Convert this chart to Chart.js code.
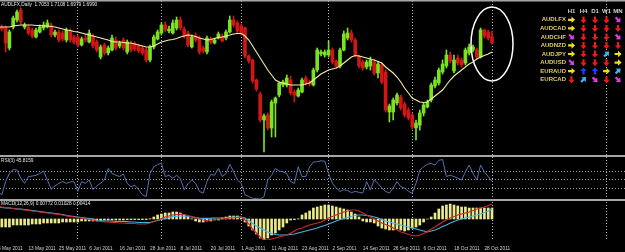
<!DOCTYPE html>
<html>
<head>
<meta charset="utf-8">
<script src="https://cdn.jsdelivr.net/npm/chart.js@4.4.0/dist/chart.umd.min.js"></script>
<style>
  html, body { margin: 0; padding: 0; background: #000; }
  #c { display: block; background: #000; }
</style>
</head>
<body>
<canvas id="c" width="625" height="252"></canvas>
<script>
// trading days, one per bar
var dates = [
  '3 May 2011','4 May 2011','5 May 2011','6 May 2011','9 May 2011','10 May 2011','11 May 2011','12 May 2011','13 May 2011','16 May 2011','17 May 2011','18 May 2011','19 May 2011','20 May 2011','23 May 2011','24 May 2011','25 May 2011','26 May 2011','27 May 2011','30 May 2011','31 May 2011',
  '1 Jun 2011','2 Jun 2011','3 Jun 2011','6 Jun 2011','7 Jun 2011','8 Jun 2011','9 Jun 2011','10 Jun 2011','13 Jun 2011','14 Jun 2011','15 Jun 2011','16 Jun 2011','17 Jun 2011','20 Jun 2011','21 Jun 2011','22 Jun 2011','23 Jun 2011','24 Jun 2011','27 Jun 2011','28 Jun 2011','29 Jun 2011','30 Jun 2011',
  '1 Jul 2011','4 Jul 2011','5 Jul 2011','6 Jul 2011','7 Jul 2011','8 Jul 2011','11 Jul 2011','12 Jul 2011','13 Jul 2011','14 Jul 2011','15 Jul 2011','18 Jul 2011','19 Jul 2011','20 Jul 2011','21 Jul 2011','22 Jul 2011','25 Jul 2011','26 Jul 2011','27 Jul 2011','28 Jul 2011','29 Jul 2011',
  '1 Aug 2011','2 Aug 2011','3 Aug 2011','4 Aug 2011','5 Aug 2011','8 Aug 2011','9 Aug 2011','10 Aug 2011','11 Aug 2011','12 Aug 2011','15 Aug 2011','16 Aug 2011','17 Aug 2011','18 Aug 2011','19 Aug 2011','22 Aug 2011','23 Aug 2011','24 Aug 2011','25 Aug 2011','26 Aug 2011','29 Aug 2011','30 Aug 2011','31 Aug 2011',
  '1 Sep 2011','2 Sep 2011','5 Sep 2011','6 Sep 2011','7 Sep 2011','8 Sep 2011','9 Sep 2011','12 Sep 2011','13 Sep 2011','14 Sep 2011','15 Sep 2011','16 Sep 2011','19 Sep 2011','20 Sep 2011','21 Sep 2011','22 Sep 2011','23 Sep 2011','26 Sep 2011','27 Sep 2011','28 Sep 2011','29 Sep 2011','30 Sep 2011',
  '3 Oct 2011','4 Oct 2011','5 Oct 2011','6 Oct 2011','7 Oct 2011','10 Oct 2011','11 Oct 2011','12 Oct 2011','13 Oct 2011','14 Oct 2011','17 Oct 2011','18 Oct 2011','19 Oct 2011','20 Oct 2011','21 Oct 2011','24 Oct 2011','25 Oct 2011','26 Oct 2011','27 Oct 2011','28 Oct 2011','31 Oct 2011',
  '1 Nov 2011'
];

var open = [
  1.716,1.715,1.714,1.694,1.715,1.722,1.732,1.715,1.715,1.712,
  1.705,1.710,1.714,1.715,1.717,1.707,1.710,1.709,1.702,1.711,
  1.705,1.705,1.697,1.704,1.700,1.706,1.700,1.685,1.697,1.689,
  1.692,1.702,1.696,1.702,1.690,1.699,1.698,1.696,1.694,1.692,
  1.682,1.695,1.703,1.709,1.717,1.711,1.709,1.714,1.722,1.713,
  1.709,1.695,1.706,1.704,1.694,1.690,1.703,1.699,1.704,1.706,
  1.704,1.710,1.722,1.719,1.716,1.714,1.686,1.682,1.662,1.648,
  1.622,1.627,1.614,1.639,1.647,1.657,1.657,1.662,1.650,1.646,
  1.650,1.664,1.660,1.657,1.672,1.688,1.687,1.687,1.692,1.681,
  1.676,1.692,1.704,1.709,1.702,1.686,1.680,1.675,1.676,1.680,
  1.669,1.677,1.670,1.630,1.630,1.639,1.645,1.638,1.632,1.627,
  1.614,1.617,1.629,1.635,1.642,1.656,1.659,1.670,1.676,1.687,
  1.671,1.684,1.682,1.679,1.689,1.692,1.692,1.685,1.712,1.710,
  1.7053
];
var high = [
  1.718,1.717,1.716,1.712,1.726,1.732,1.734,1.719,1.717,1.714,
  1.714,1.717,1.720,1.722,1.719,1.712,1.712,1.711,1.714,1.713,
  1.707,1.707,1.705,1.708,1.712,1.708,1.702,1.697,1.699,1.696,
  1.707,1.705,1.701,1.704,1.702,1.701,1.700,1.698,1.696,1.694,
  1.697,1.707,1.712,1.719,1.720,1.716,1.722,1.725,1.725,1.715,
  1.711,1.707,1.709,1.706,1.696,1.706,1.705,1.704,1.710,1.708,
  1.712,1.726,1.726,1.721,1.718,1.715,1.687,1.683,1.663,1.650,
  1.628,1.629,1.642,1.645,1.660,1.662,1.667,1.666,1.652,1.654,
  1.664,1.666,1.662,1.674,1.694,1.692,1.692,1.701,1.694,1.682,
  1.694,1.711,1.714,1.712,1.704,1.687,1.682,1.682,1.685,1.682,
  1.680,1.679,1.672,1.638,1.644,1.649,1.647,1.640,1.634,1.629,
  1.622,1.632,1.639,1.642,1.659,1.665,1.674,1.682,1.692,1.690,
  1.687,1.687,1.684,1.694,1.698,1.697,1.694,1.714,1.713,1.712,
  1.7108
];
var low = [
  1.710,1.711,1.690,1.692,1.713,1.720,1.718,1.713,1.707,1.704,
  1.704,1.709,1.712,1.714,1.705,1.705,1.700,1.701,1.700,1.700,
  1.698,1.695,1.696,1.700,1.699,1.694,1.690,1.683,1.687,1.687,
  1.691,1.692,1.694,1.692,1.688,1.690,1.691,1.689,1.687,1.680,
  1.680,1.693,1.702,1.707,1.710,1.709,1.708,1.712,1.712,1.704,
  1.695,1.694,1.700,1.688,1.689,1.688,1.698,1.698,1.703,1.700,
  1.702,1.709,1.715,1.709,1.707,1.684,1.679,1.659,1.651,1.620,
  1.590,1.612,1.605,1.605,1.645,1.655,1.655,1.647,1.640,1.645,
  1.649,1.657,1.656,1.656,1.670,1.686,1.685,1.685,1.678,1.674,
  1.674,1.691,1.702,1.700,1.685,1.674,1.672,1.673,1.672,1.667,
  1.664,1.658,1.630,1.620,1.622,1.637,1.632,1.625,1.622,1.613,
  1.602,1.612,1.626,1.634,1.640,1.654,1.657,1.668,1.674,1.679,
  1.669,1.677,1.675,1.677,1.687,1.690,1.683,1.684,1.704,1.702,
  1.6979
];
var close = [
  1.712,1.713,1.699,1.710,1.724,1.730,1.720,1.717,1.709,1.706,
  1.712,1.715,1.717,1.719,1.707,1.710,1.702,1.703,1.712,1.702,
  1.700,1.697,1.703,1.702,1.709,1.696,1.692,1.695,1.689,1.694,
  1.704,1.694,1.699,1.694,1.700,1.692,1.693,1.691,1.689,1.682,
  1.695,1.705,1.710,1.717,1.712,1.713,1.719,1.722,1.714,1.706,
  1.697,1.705,1.702,1.690,1.691,1.704,1.700,1.702,1.708,1.701,
  1.710,1.722,1.717,1.711,1.709,1.686,1.681,1.661,1.653,1.622,
  1.626,1.614,1.640,1.644,1.659,1.660,1.664,1.649,1.647,1.652,
  1.662,1.659,1.658,1.672,1.692,1.690,1.690,1.692,1.680,1.676,
  1.692,1.708,1.709,1.702,1.687,1.676,1.674,1.680,1.682,1.669,
  1.678,1.660,1.632,1.636,1.642,1.647,1.634,1.627,1.624,1.615,
  1.619,1.629,1.637,1.640,1.657,1.662,1.672,1.678,1.687,1.681,
  1.682,1.679,1.677,1.692,1.695,1.695,1.685,1.712,1.706,1.704,
  1.6990
];
// yellow moving average
var ma = [
  1.715,1.715,1.715,1.715,1.716,1.7165,1.717,1.717,1.717,1.717,
  1.7165,1.7165,1.716,1.716,1.7155,1.715,1.714,1.713,1.712,1.7115,
  1.7105,1.710,1.709,1.708,1.707,1.706,1.705,1.704,1.703,1.702,
  1.7005,1.700,1.700,1.6995,1.699,1.699,1.698,1.697,1.696,1.695,
  1.695,1.696,1.698,1.700,1.701,1.702,1.7025,1.7035,1.705,1.706,
  1.707,1.7065,1.7055,1.704,1.703,1.702,1.7025,1.7035,1.7045,1.705,
  1.706,1.707,1.708,1.7085,1.7085,1.706,1.702,1.696,1.690,1.684,
  1.678,1.672,1.667,1.662,1.660,1.659,1.658,1.657,1.657,1.657,
  1.657,1.658,1.659,1.662,1.665,1.668,1.670,1.672,1.673,1.674,
  1.676,1.679,1.682,1.685,1.6865,1.686,1.685,1.684,1.683,1.682,
  1.6805,1.679,1.675,1.672,1.669,1.665,1.660,1.654,1.649,1.644,
  1.642,1.640,1.6395,1.640,1.643,1.646,1.649,1.652,1.657,1.662,
  1.666,1.669,1.672,1.675,1.678,1.680,1.683,1.685,1.6865,1.688,
  1.690
];
var rsi = [
  22,14,45,64,74,72,53,41,57,58,
  60,64,70,49,27,35,41,45,41,44,
  45,22,45,41,49,26,35,41,49,76,
  64,60,57,63,41,33,37,26,14,10,
  64,80,85,89,57,60,53,60,52,26,
  40,49,41,22,18,45,62,60,76,57,
  64,86,68,49,41,14,10,6,5,4,
  10,49,60,76,70,68,64,45,41,80,
  57,57,80,91,92,94,93,64,41,30,
  22,26,24,19,22,20,18,45,26,49,
  41,30,22,18,30,45,33,30,22,18,
  41,72,80,86,88,84,95,97,57,60,
  57,53,49,68,84,64,49,84,68,57,
  45.8159
];
var rsiLevels = [30, 50, 70];
var macdHist = [
  -0.0040,-0.0040,-0.0040,-0.0040,-0.0030,-0.0030,-0.0030,-0.0030,-0.0030,-0.0025,
  -0.0025,-0.0025,-0.0020,-0.0020,-0.0020,-0.0020,-0.0020,-0.0015,-0.0015,-0.0015,
  -0.0015,-0.0015,-0.0010,-0.0010,-0.0010,-0.0010,-0.0010,-0.0005,-0.0005,-0.0005,
  -0.0005,-0.0005,-0.0005,-0.0005,-0.0003,-0.0003,-0.0003,-0.0003,-0.0003,-0.0003,
  0.0001,0.0010,0.0020,0.0025,0.0030,0.0030,0.0035,0.0035,0.0030,0.0020,
  0.0010,0.0001,-0.0010,-0.0015,-0.0015,-0.0010,-0.0010,-0.0005,-0.0005,0.0005,
  0.0010,0.0015,0.0015,0.0015,0.0005,-0.0015,-0.0035,-0.0055,-0.0075,-0.0095,
  -0.0105,-0.0095,-0.0080,-0.0070,-0.0055,-0.0040,-0.0020,-0.0005,-0.0003,0.0001,
  0.0020,0.0030,0.0040,0.0055,0.0060,0.0065,0.0070,0.0070,0.0065,0.0060,
  0.0055,0.0050,0.0045,0.0035,0.0025,0.0010,-0.0010,-0.0015,-0.0015,-0.0020,
  -0.0035,-0.0045,-0.0050,-0.0055,-0.0055,-0.0050,-0.0055,-0.0060,-0.0055,-0.0045,
  -0.0040,-0.0030,-0.0015,0.0000,0.0010,0.0030,0.0050,0.0065,0.0070,0.0075,
  0.0070,0.0065,0.0060,0.0060,0.0055,0.0055,0.0055,0.0055,0.0055,0.0055,
  0.0055
];
var macdMain = [
  0.00625,0.0060,0.00575,0.0055,0.00525,0.0050,0.00475,0.0045,0.00425,0.0040,
  0.00375,0.0035,0.00325,0.0030,0.00275,0.0025,0.00225,0.0020,0.0015,0.00125,
  0.0010,0.00075,0.0005,0.0000,-0.00025,-0.0005,-0.0010,-0.00125,-0.0015,-0.0015,
  -0.00175,-0.00175,-0.0020,-0.0020,-0.00215,-0.00225,-0.00225,-0.0025,-0.0025,-0.0025,
  -0.0020,-0.00125,-0.0005,0.00025,0.0010,0.0015,0.0020,0.00225,0.00235,0.00225,
  0.00175,0.00125,0.00075,0.0000,-0.0005,-0.00075,-0.0005,-0.00025,0.0000,0.0000,
  0.00025,0.0005,0.0005,0.00075,0.0010,-0.0005,-0.0025,-0.0050,-0.0070,-0.0090,
  -0.01025,-0.0105,-0.0100,-0.0095,-0.0090,-0.0085,-0.0080,-0.0070,-0.0060,-0.0050,
  -0.0045,-0.00375,-0.0030,-0.0025,-0.0020,-0.0015,-0.0005,0.0005,0.00125,0.0020,
  0.00275,0.0035,0.0040,0.0045,0.0045,0.0040,0.0030,0.0020,0.0010,0.0000,
  -0.0010,-0.0020,-0.00275,-0.0035,-0.0045,-0.0055,-0.0065,-0.0070,-0.00775,-0.00825,
  -0.0085,-0.0080,-0.00725,-0.00625,-0.0050,-0.0040,-0.00275,-0.0015,-0.0005,0.0005,
  0.00125,0.0020,0.0025,0.0030,0.0035,0.00425,0.0050,0.0055,0.0060,0.00675,
  0.0075
];
var macdSignal = [
  0.0060,0.00575,0.0055,0.0055,0.00525,0.0050,0.0050,0.00475,0.0045,0.00425,
  0.0040,0.00375,0.0035,0.00325,0.0030,0.00275,0.0025,0.00225,0.00175,0.0015,
  0.00125,0.0010,0.00075,0.0005,0.00025,0.0000,-0.0005,-0.00075,-0.0010,-0.0010,
  -0.0010,-0.00125,-0.00125,-0.00125,-0.00135,-0.0015,-0.0015,-0.00175,-0.00175,-0.00185,
  -0.00175,-0.00125,-0.00075,-0.00025,0.00025,0.00075,0.00115,0.00135,0.0015,0.0015,
  0.00125,0.0010,0.00075,0.0005,0.00035,0.00035,0.0004,0.0005,0.0005,0.0005,
  0.0006,0.00075,0.0009,0.0010,0.0010,0.0005,-0.00075,-0.00225,-0.0035,-0.0045,
  -0.0055,-0.0065,-0.00725,-0.00775,-0.0080,-0.0080,-0.0080,-0.00775,-0.0075,-0.0070,
  -0.0065,-0.0060,-0.0055,-0.0050,-0.0045,-0.00375,-0.00325,-0.0025,-0.00175,-0.0010,
  -0.00025,0.00025,0.00075,0.00125,0.00175,0.0020,0.0020,0.00175,0.0015,0.0010,
  0.0005,-0.00025,-0.0010,-0.0015,-0.0020,-0.0025,-0.0030,-0.0035,-0.0040,-0.0045,
  -0.0050,-0.0055,-0.0060,-0.0065,-0.0060,-0.0055,-0.00475,-0.00375,-0.0030,-0.0020,
  -0.00125,-0.0005,0.0000,0.0005,0.0010,0.0015,0.0020,0.0025,0.00325,0.0040,
  0.0050
];

// signal table on the right
var pairs = ['AUDLFX', 'AUDCAD', 'AUDCHF', 'AUDNZD', 'AUDJPY', 'AUDUSD', 'EURAUD', 'EURCAD'];
var frames = ['H1', 'H4', 'D1', 'W1', 'MN'];
var signals = [
  ['E', 'S', 'S', 'S', 'SE'],
  ['E', 'S', 'S', 'S', 'S'],
  ['SE', 'S', 'S', 'S', 'SE'],
  ['E', 'S', 'S', 'S', 'S'],
  ['E', 'S', 'S', 'NE', 'E'],
  ['SE', 'S', 'S', 'S', 'E'],
  ['E', 'N', 'N', 'E', 'NE'],
  ['S', 'NE', 'SE', 'S', 'SE']
];

var titleText = 'AUDLFX,Daily  1.7053 1.7108 1.6979 1.6990';
var rsiText = 'RSI(3) 45.8159';
var macdText = 'MACD(12,26,9) 0.00772 0.01028 0.00414';
var shiftBar = 160;
var circled = { bar: 130, price: 1.698 };

var bull = '#7be21f', bear = '#d01616';
var arrowStyle = {
  E:  { angle: 0,             color: '#f0e01c' },
  S:  { angle: Math.PI / 2,   color: '#f01a1a' },
  SE: { angle: Math.PI / 4,   color: '#d83ee0' },
  NE: { angle: -Math.PI / 4,  color: '#3cb6f2' },
  N:  { angle: -Math.PI / 2,  color: '#1f3dff' }
};

function pts(arr) {
  return arr.map(function (v, i) { return { x: i, y: v }; });
}
function spans(a, b) {
  return a.map(function (v, i) { return { x: i, y: [v, b[i]] }; });
}
var candleColors = open.map(function (o, i) { return close[i] >= o ? bull : bear; });

// vertical grid at the first bar of each month
var gridBars = [];
for (var i = 1; i < dates.length; i++) {
  if (dates[i].split(' ')[1] !== dates[i - 1].split(' ')[1]) gridBars.push(i);
}
gridBars.push(shiftBar);

function drawArrow(ctx, cx, cy, style) {
  ctx.save();
  ctx.translate(cx, cy);
  ctx.rotate(style.angle);
  ctx.fillStyle = style.color;
  ctx.beginPath();
  ctx.moveTo(-3.4, -1.1);
  ctx.lineTo(0, -1.1);
  ctx.lineTo(0, -3.2);
  ctx.lineTo(3.6, 0);
  ctx.lineTo(0, 3.2);
  ctx.lineTo(0, 1.1);
  ctx.lineTo(-3.4, 1.1);
  ctx.closePath();
  ctx.fill();
  ctx.restore();
}

var mt4Panels = {
  id: 'mt4Panels',
  afterDraw: function (chart) {
    var ctx = chart.ctx, s = chart.scales, w = chart.width;
    ctx.save();
    // panel separators
    ctx.fillStyle = '#a6a6a6';
    ctx.fillRect(0, 0, w, 1.5);
    ctx.fillRect(0, s.yRsi.top - 1, w, 2);
    ctx.fillRect(0, s.yMacd.top - 1, w, 2);

    // panel captions
    ctx.font = "4.8px 'Liberation Sans'";
    ctx.fillStyle = '#e6e6e6';
    ctx.textAlign = 'left';
    ctx.textBaseline = 'middle';
    ctx.fillText(titleText, 1, 5);
    ctx.fillText(rsiText, 1, s.yRsi.top + 4.5);
    ctx.fillText(macdText, 1, s.yMacd.top + 4);

    // circle around the last bars
    ctx.strokeStyle = '#ffffff';
    ctx.lineWidth = 1.5;
    ctx.beginPath();
    ctx.ellipse(s.x.getPixelForValue(circled.bar), s.y.getPixelForValue(circled.price), 21, 37, 0, 0, Math.PI * 2);
    ctx.stroke();

    // signal table
    var cols = [571.5, 583.5, 595, 606.5, 618];
    ctx.font = "bold 6px 'Liberation Sans'";
    ctx.textAlign = 'center';
    ctx.fillStyle = '#d4d4d4';
    frames.forEach(function (f, j) { ctx.fillText(f, cols[j], 11.5); });
    pairs.forEach(function (p, r) {
      var y = 19.8 + r * 8.55;
      ctx.textAlign = 'right';
      ctx.fillStyle = '#e0cd66';
      ctx.fillText(p, 566, y);
      signals[r].forEach(function (sig, j) { drawArrow(ctx, cols[j], y, arrowStyle[sig]); });
    });
    ctx.restore();
  }
};

new Chart(document.getElementById('c'), {
  type: 'bar',
  data: {
    datasets: [
      { type: 'line', label: 'MA', data: pts(ma), yAxisID: 'y', borderColor: '#f4eea4', borderWidth: 1.1, pointRadius: 0, order: 1 },
      { label: 'Wick', data: spans(low, high), yAxisID: 'y', backgroundColor: candleColors, grouped: false,
        barPercentage: 1, categoryPercentage: 1, maxBarThickness: 1, order: 4 },
      { label: 'Body', data: spans(open, close), yAxisID: 'y', backgroundColor: candleColors, grouped: false,
        barPercentage: 1, categoryPercentage: 1, maxBarThickness: 3, minBarLength: 1, order: 3 },
      { type: 'line', label: 'RSI', data: pts(rsi), yAxisID: 'yRsi', borderColor: '#5570b2', borderWidth: 1, pointRadius: 0, order: 2 },
      { label: 'Histogram', data: pts(macdHist), yAxisID: 'yMacd', backgroundColor: '#eaea8c', grouped: false,
        barPercentage: 1, categoryPercentage: 1, maxBarThickness: 2, order: 5 },
      { type: 'line', label: 'Signal', data: pts(macdSignal), yAxisID: 'yMacd', borderColor: '#46b2e6', borderWidth: 1.2, pointRadius: 0, order: 2 },
      { type: 'line', label: 'MACD', data: pts(macdMain), yAxisID: 'yMacd', borderColor: '#cc2a2a', borderWidth: 1.2, pointRadius: 0, order: 1 }
    ]
  },
  options: {
    responsive: false,
    animation: false,
    events: [],
    layout: { padding: { top: 1, left: 0, right: 0, bottom: 0 } },
    plugins: { legend: { display: false }, tooltip: { enabled: false } },
    scales: {
      x: {
        type: 'linear',
        min: 0.526,
        max: 165,
        bounds: 'data',
        offset: false,
        grid: {
          offset: false,
          drawTicks: false,
          lineWidth: 1,
          color: function (c) {
            return c.tick && gridBars.indexOf(c.tick.value) >= 0 ? '#b8b8b8' : 'rgba(0,0,0,0)';
          }
        },
        border: { display: false, dash: [1, 2] },
        ticks: {
          autoSkip: false,
          maxRotation: 0,
          minRotation: 0,
          align: 'start',
          padding: 5.5,
          color: '#d0d0d0',
          font: { family: 'Liberation Sans', size: 4.8 },
          callback: function (v) { return (v % 8 === 0 && dates[v]) ? dates[v] : ''; }
        },
        afterBuildTicks: function (scale) {
          var vals = [];
          for (var k = 0; k < dates.length; k++) {
            if (k % 8 === 0 || gridBars.indexOf(k) >= 0) vals.push(k);
          }
          vals.push(shiftBar);
          scale.ticks = vals.map(function (v) { return { value: v }; });
        },
        afterFit: function (scale) {
          scale.paddingLeft = 0;
          scale.paddingRight = 0;
          scale.height = 12;
        }
      },
      y: {
        position: 'right', stack: 'mt4', stackWeight: 155,
        min: 1.586, max: 1.741,
        ticks: { display: false },
        grid: { display: false, drawTicks: false },
        border: { display: false }
      },
      yRsi: {
        position: 'right', stack: 'mt4', stackWeight: 44,
        min: 1.8, max: 105.3,
        ticks: { display: false },
        grid: { color: '#9c9c9c', drawTicks: false },
        border: { display: false, dash: [1, 2] },
        afterBuildTicks: function (scale) {
          scale.ticks = rsiLevels.map(function (v) { return { value: v }; });
        }
      },
      yMacd: {
        position: 'right', stack: 'mt4', stackWeight: 40,
        min: -0.0105, max: 0.0095,
        ticks: { display: false },
        grid: { display: false, drawTicks: false },
        border: { display: false }
      }
    }
  },
  plugins: [mt4Panels]
});
</script>
</body>
</html>
